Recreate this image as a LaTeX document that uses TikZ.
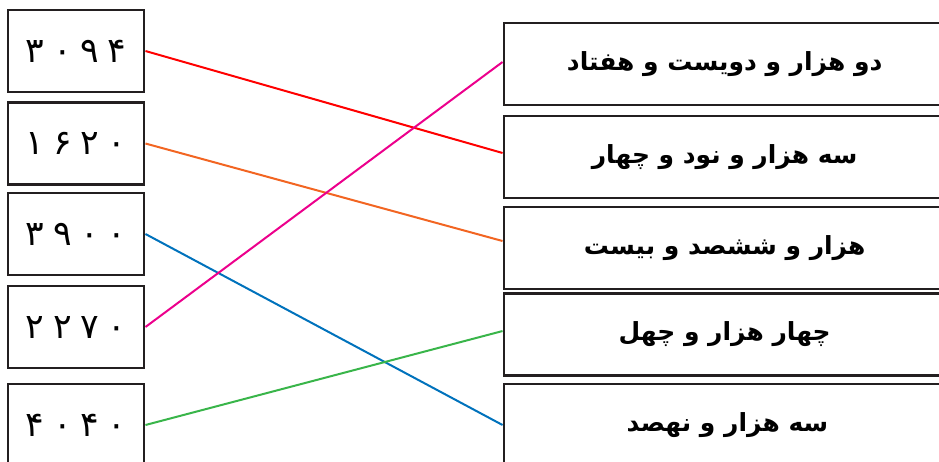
\documentclass[tikz,border=0pt]{standalone}
\usepackage{fontspec}
\TeXXeTstate=1
\newfontfamily\fa[Script=Arabic]{DejaVu Sans}
\definecolor{frame}{HTML}{231F20}
\definecolor{cred}{HTML}{FF0000}
\definecolor{corange}{HTML}{F26522}
\definecolor{cblue}{HTML}{0072BC}
\definecolor{cpink}{HTML}{EC008C}
\definecolor{cgreen}{HTML}{39B54A}
\tikzset{
  numbox/.style={draw=frame, line width=2.2pt, minimum width=102pt, minimum height=61.5pt, inner sep=0pt, font=\fa\fontsize{26}{30}\selectfont},
  wordbox/.style={draw=frame, line width=2.2pt, minimum width=345pt, minimum height=61.5pt, inner sep=0pt, font=\fa\bfseries\fontsize{18.7}{22}\selectfont},
  link/.style={line width=1.5pt}
}
\newcommand{\dg}[4]{#1\hspace{0.25em}#2\hspace{0.25em}#3\hspace{0.25em}#4}
\begin{document}
\begin{tikzpicture}[x=0.75pt,y=-0.75pt]
\useasboundingbox (0,0) rectangle (939,461);
\clip (0,0) rectangle (939,461);
\node[numbox] (L1) at (76,51) {\dg{۳}{۰}{۹}{۴}};
\node[numbox] (L2) at (76,143.5) {\dg{۱}{۶}{۲}{۰}};
\node[numbox] (L3) at (76,234) {\dg{۳}{۹}{۰}{۰}};
\node[numbox] (L4) at (76,327) {\dg{۲}{۲}{۷}{۰}};
\node[numbox] (L5) at (76,425) {\dg{۴}{۰}{۴}{۰}};
\node[wordbox] (R1) at (734,64) {\hspace*{-14pt}\beginR دو هزار و دویست و هفتاد\endR};
\node[wordbox] (R2) at (734,157) {\hspace*{-14pt}\beginR سه هزار و نود و چهار\endR};
\node[wordbox] (R3) at (734,248) {\hspace*{-14pt}\beginR هزار و ششصد و بیست\endR};
\node[wordbox] (R4) at (734,334.5) {\hspace*{-14pt}\beginR چهار هزار و چهل\endR};
\node[wordbox] (R5) at (734,425) {\hspace*{-10pt}\beginR سه هزار و نهصد\endR};
\draw[link, cred] (L1.east) -- ([yshift=3pt]R2.west);
\draw[link, corange] (L2.east) -- ([yshift=5.25pt]R3.west);
\draw[link, cblue] (L3.east) -- (R5.west);
\draw[link, cpink] (L4.east) -- ([yshift=1.5pt]R1.west);
\draw[link, cgreen] (L5.east) -- ([yshift=2.6pt]R4.west);
\end{tikzpicture}
\end{document}
